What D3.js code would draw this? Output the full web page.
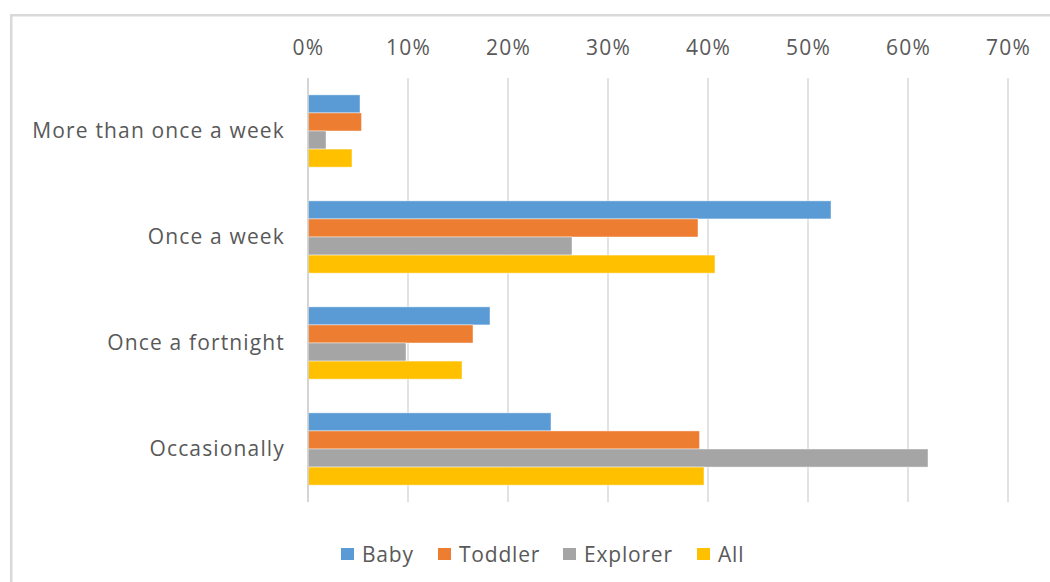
<!DOCTYPE html>
<html>
<head>
<meta charset="utf-8">
<script src="https://cdn.jsdelivr.net/npm/d3@7"></script>
<style>
  html, body { margin: 0; padding: 0; background: #fff; }
  svg { display: block; }
  text { font-family: "Open Sans", "Noto Sans", sans-serif; fill: #595959; }
</style>
</head>
<body>
<svg id="chart" width="1050" height="582"></svg>
<script>
const categories = ["More than once a week", "Once a week", "Once a fortnight", "Occasionally"];
const seriesNames = ["Baby", "Toddler", "Explorer", "All"];
const seriesColors = ["#5B9BD5", "#ED7D31", "#A5A5A5", "#FFC000"];
const baby     = [0.052, 0.523, 0.182, 0.243];
const toddler  = [0.0535, 0.390, 0.165, 0.3915];
const explorer = [0.018, 0.264, 0.098, 0.620];
const all      = [0.044, 0.407, 0.154, 0.396];
const tickValues = [0, 0.1, 0.2, 0.3, 0.4, 0.5, 0.6, 0.7];

const seriesValues = [baby, toddler, explorer, all];

const svg = d3.select("#chart");

// outer chart border (cropped at right and bottom)
svg.append("rect")
  .attr("x", 11.25).attr("y", 15.25)
  .attr("width", 1100).attr("height", 700)
  .attr("fill", "none")
  .attr("stroke", "#D9D9D9")
  .attr("stroke-width", 2.5);

const x = d3.scaleLinear().domain([0, 0.7]).range([308, 1008]);
const y = d3.scaleBand().domain(categories).range([78, 502]).paddingInner(0.318).paddingOuter(0.159);
const ySub = d3.scaleBand().domain(seriesNames).range([0, y.bandwidth()]);

// gridlines
svg.append("g")
  .selectAll("line")
  .data(tickValues)
  .join("line")
  .attr("x1", d => x(d)).attr("x2", d => x(d))
  .attr("y1", 78).attr("y2", 502)
  .attr("stroke", "#D9D9D9")
  .attr("stroke-width", 1.5);

// top axis labels
const xAxis = d3.axisTop(x).tickValues(tickValues).tickFormat(d3.format(".0%")).tickSize(0).tickPadding(0);
const gx = svg.append("g").attr("transform", "translate(0,55)").call(xAxis);
gx.select(".domain").remove();
gx.selectAll("text")
  .attr("font-size", 21)
  .attr("font-family", "Open Sans")
  .attr("letter-spacing", 1.2)
  .attr("fill", "#595959");

// bars
const groups = svg.append("g")
  .selectAll("g")
  .data(categories)
  .join("g")
  .attr("transform", c => `translate(0,${y(c)})`);

groups.selectAll("rect")
  .data((c, ci) => seriesNames.map((s, si) => ({ s, si, v: seriesValues[si][ci] })))
  .join("rect")
  .attr("x", x(0))
  .attr("y", d => ySub(d.s))
  .attr("width", d => x(d.v) - x(0))
  .attr("height", ySub.bandwidth())
  .attr("fill", d => seriesColors[d.si])
  .attr("stroke", "#ffffff")
  .attr("stroke-opacity", 0.55)
  .attr("stroke-width", 0.8);

// zero axis line
svg.append("line")
  .attr("x1", x(0)).attr("x2", x(0))
  .attr("y1", 78).attr("y2", 502)
  .attr("stroke", "#D0D0D0")
  .attr("stroke-width", 1.5);

// category labels
const yAxis = d3.axisLeft(y).tickSize(0).tickPadding(0);
const gy = svg.append("g").attr("transform", "translate(285,0)").call(yAxis);
gy.select(".domain").remove();
gy.selectAll("text")
  .attr("font-size", 21)
  .attr("font-family", "Open Sans")
  .attr("letter-spacing", 1.15)
  .attr("fill", "#595959");

// legend
const legendX = [341, 438, 563, 697];
const legend = svg.append("g")
  .selectAll("g")
  .data(seriesNames)
  .join("g")
  .attr("transform", (d, i) => `translate(${legendX[i]},548)`);
legend.append("rect")
  .attr("width", 13).attr("height", 12)
  .attr("fill", (d, i) => seriesColors[i]);
legend.append("text")
  .attr("x", 21).attr("y", 13.5)
  .attr("font-size", 21)
  .attr("letter-spacing", 0.8)
  .text(d => d);
</script>
</body>
</html>
